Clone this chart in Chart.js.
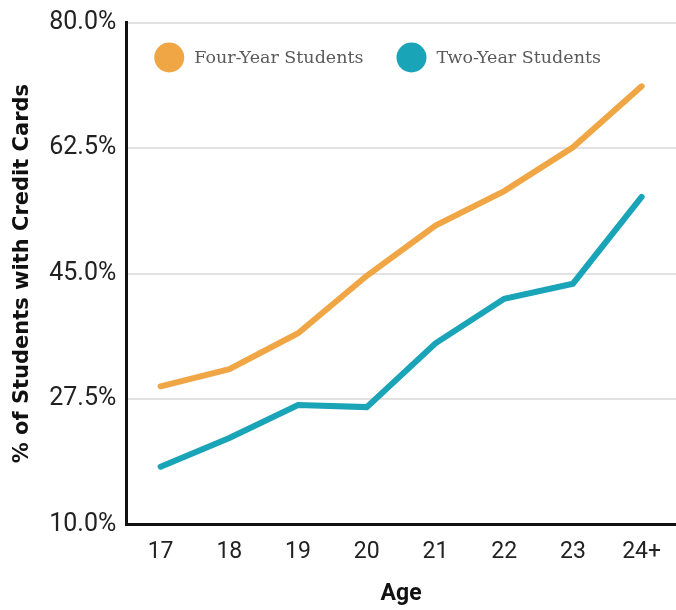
<!DOCTYPE html>
<html>
<head>
<meta charset="utf-8">
<script src="https://cdn.jsdelivr.net/npm/chart.js@4.4.0/dist/chart.umd.min.js"></script>
<style>
  html, body { margin: 0; padding: 0; background: #fff; }
  #wrap { width: 676px; height: 610px; position: relative; }
</style>
</head>
<body>
<div id="wrap"><canvas id="chart"></canvas></div>
<script>
const ages = ['17', '18', '19', '20', '21', '22', '23', '24+'];
const fourYear = [29.3, 31.7, 36.7, 44.7, 51.7, 56.5, 62.6, 71.1];
const twoYear = [18.1, 22.1, 26.7, 26.4, 35.3, 41.5, 43.6, 55.7];
const yTicks = [10, 27.5, 45, 62.5, 80];

const ORANGE = '#F0A644';
const TEAL = '#1AA4B8';

// legend drawn inside the plot, top left
const insideLegend = {
    id: 'insideLegend',
    afterDraw(chart) {
        const ctx = chart.ctx;
        const area = chart.chartArea;
        let x = area.left + 43;
        const y = area.top + 35;
        ctx.save();
        ctx.font = '17.5px "DejaVu Serif", serif';
        ctx.textBaseline = 'middle';
        chart.data.datasets.forEach(ds => {
            ctx.fillStyle = ds.borderColor;
            ctx.beginPath();
            ctx.arc(x, y, 15, 0, Math.PI * 2);
            ctx.fill();
            ctx.fillStyle = '#5a5a5a';
            ctx.fillText(ds.label, x + 25, y + 1);
            x += 25 + ctx.measureText(ds.label).width + 48;
        });
        ctx.restore();
    }
};

new Chart(document.getElementById('chart'), {
    type: 'line',
    data: {
        labels: ages,
        datasets: [{
            label: 'Four-Year Students',
            data: fourYear,
            borderColor: ORANGE,
            backgroundColor: ORANGE,
            borderWidth: 6,
            borderCapStyle: 'round',
            pointRadius: 0,
            tension: 0
        }, {
            label: 'Two-Year Students',
            data: twoYear,
            borderColor: TEAL,
            backgroundColor: TEAL,
            borderWidth: 6,
            borderCapStyle: 'round',
            pointRadius: 0,
            tension: 0
        }]
    },
    options: {
        responsive: true,
        maintainAspectRatio: false,
        animation: false,
        layout: { padding: { top: 1, right: 0, left: 6, bottom: 0 } },
        plugins: {
            legend: { display: false },
            tooltip: { enabled: false }
        },
        scales: {
            x: {
                offset: true,
                grid: { display: false, drawTicks: false },
                border: { display: true, color: '#111', width: 3 },
                ticks: {
                    color: '#222',
                    padding: 14,
                    font: { family: 'Roboto', size: 23 }
                },
                title: {
                    display: true,
                    text: 'Age',
                    color: '#111',
                    padding: { top: 0, bottom: 2 },
                    font: { family: 'Roboto', size: 23, weight: 'bold' }
                }
            },
            y: {
                min: 10,
                max: 80,
                afterBuildTicks: axis => { axis.ticks = yTicks.map(v => ({ value: v })); },
                grid: { color: '#e2e2e2', lineWidth: 2, drawTicks: false },
                border: { display: true, color: '#111', width: 3 },
                ticks: {
                    color: '#222',
                    padding: 10,
                    font: { family: 'Roboto', size: 25, lineHeight: 1 },
                    callback: v => v.toFixed(1) + '%'
                },
                title: {
                    display: true,
                    text: '% of Students with Credit Cards',
                    color: '#111',
                    padding: { bottom: 4 },
                    font: { family: 'DejaVu Sans', size: 21, weight: 'bold' }
                }
            }
        }
    },
    plugins: [insideLegend]
});
</script>
</body>
</html>
